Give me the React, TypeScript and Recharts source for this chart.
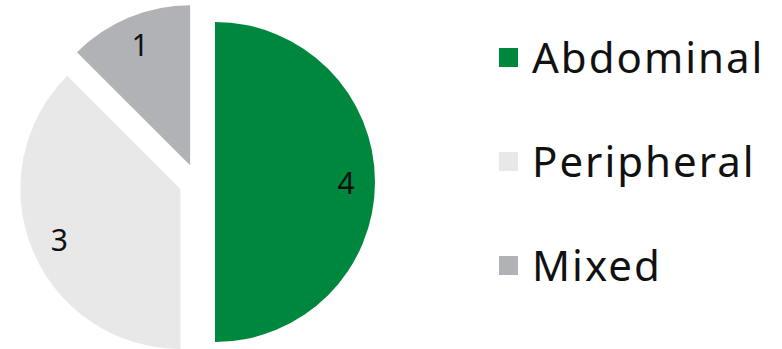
import { PieChart, Pie, Cell, Sector } from 'recharts'

const categorias = ['Abdominal', 'Peripheral', 'Mixed']
const valores = [4, 3, 1]
const colores = ['#00873E', '#E8E8E8', '#B1B2B6']

const datos = categorias.map((nombre, i) => ({ nombre, valor: valores[i] }))

const RAD = Math.PI / 180
const SEPARACION = 18

function desplazar(cx: number, cy: number, midAngle: number, d: number) {
  return {
    x: cx + d * Math.cos(-midAngle * RAD),
    y: cy + d * Math.sin(-midAngle * RAD),
  }
}

function SectorSeparado(props: any) {
  const { cx, cy, midAngle, innerRadius, outerRadius, startAngle, endAngle, fill } = props
  const c = desplazar(cx, cy, midAngle, SEPARACION)
  return (
    <Sector
      cx={c.x}
      cy={c.y}
      innerRadius={innerRadius}
      outerRadius={outerRadius}
      startAngle={startAngle}
      endAngle={endAngle}
      fill={fill}
      stroke="none"
    />
  )
}

function Etiqueta(props: any) {
  const { cx, cy, midAngle, value } = props
  const c = desplazar(cx, cy, midAngle, SEPARACION + 131)
  return (
    <text
      x={c.x}
      y={c.y}
      textAnchor="middle"
      dominantBaseline="central"
      fill="#111111"
      fontSize={30}
      fontFamily="'Noto Sans', sans-serif"
    >
      {value}
    </text>
  )
}

function Leyenda() {
  return (
    <div
      style={{
        position: 'absolute',
        left: 499,
        top: 5,
        fontFamily: "'Noto Sans', sans-serif",
        fontSize: 42,
        letterSpacing: 2,
        color: '#111111',
      }}
    >
      {categorias.map((nombre, i) => (
        <div key={nombre} style={{ display: 'flex', alignItems: 'center', height: 104 }}>
          <span
            style={{
              display: 'inline-block',
              width: 19,
              height: 19,
              background: colores[i],
              marginRight: 14,
            }}
          />
          <span style={{ lineHeight: 1 }}>{nombre}</span>
        </div>
      ))}
    </div>
  )
}

export default function App() {
  return (
    <div style={{ position: 'absolute', left: 0, top: 0, width: 782, height: 349, background: '#ffffff' }}>
      <PieChart width={782} height={349} margin={{ top: 0, right: 0, bottom: 0, left: 0 }}>
        <Pie
          data={datos}
          dataKey="valor"
          nameKey="nombre"
          cx={197}
          cy={182}
          outerRadius={160}
          startAngle={90}
          endAngle={-270}
          stroke="none"
          shape={SectorSeparado}
          label={Etiqueta}
          labelLine={false}
          isAnimationActive={false}
        >
          {datos.map((d, i) => (
            <Cell key={d.nombre} fill={colores[i]} />
          ))}
        </Pie>
      </PieChart>
      <Leyenda />
    </div>
  )
}
